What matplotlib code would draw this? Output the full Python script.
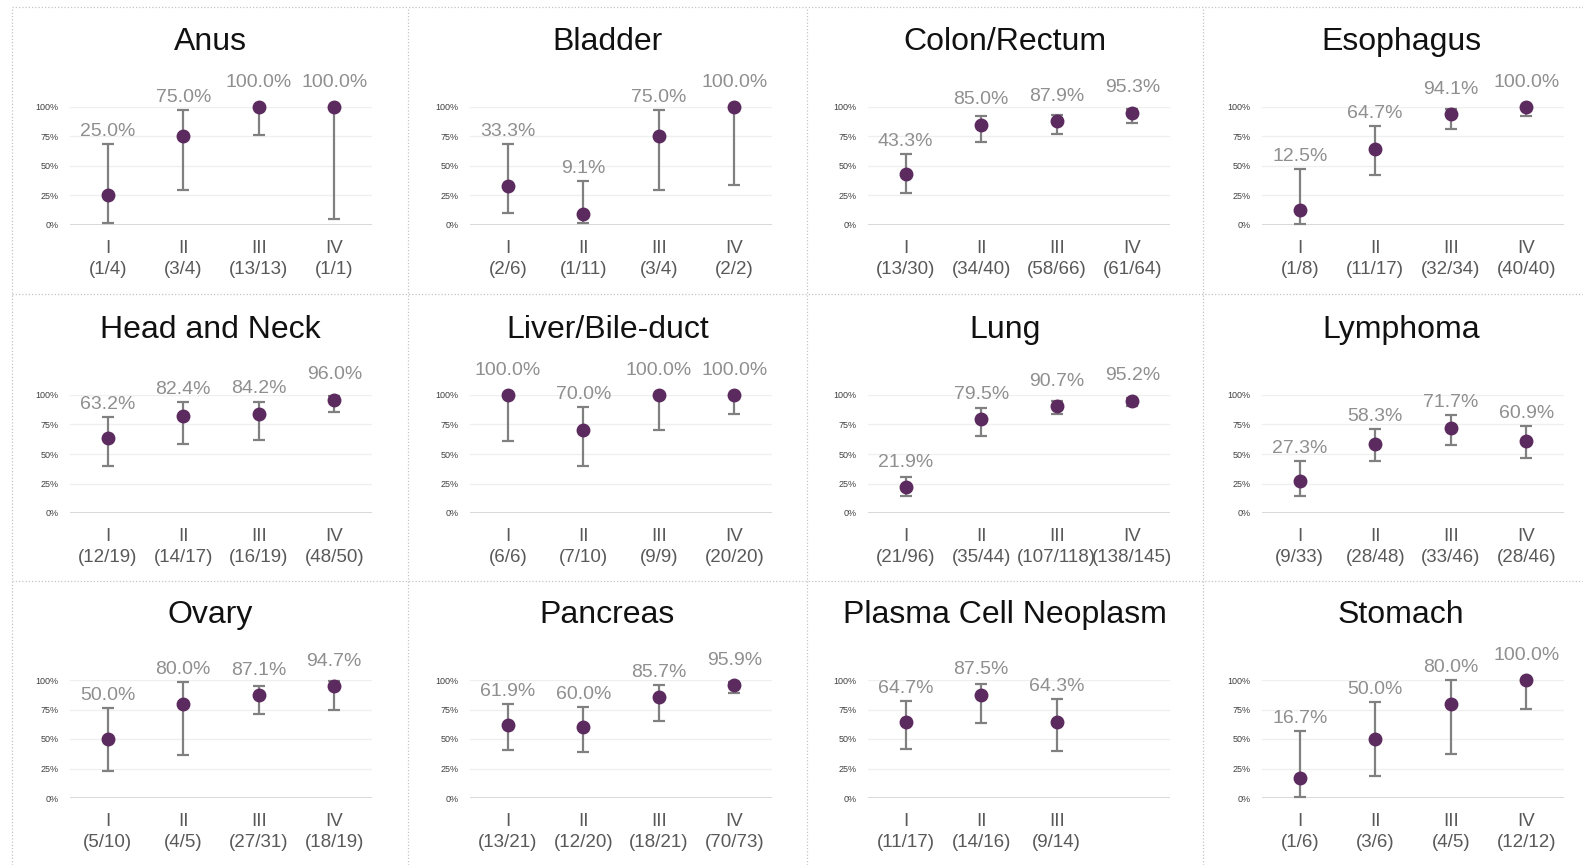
import matplotlib
matplotlib.use("Agg")
import matplotlib.pyplot as plt
from matplotlib.lines import Line2D

# ---- data -------------------------------------------------------------
sites = [
    "Anus", "Bladder", "Colon/Rectum", "Esophagus",
    "Head and Neck", "Liver/Bile-duct", "Lung", "Lymphoma",
    "Ovary", "Pancreas", "Plasma Cell Neoplasm", "Stomach",
]
stages = ["I", "II", "III", "IV"]

responders = [
    [1, 3, 13, 1], [2, 1, 3, 2], [13, 34, 58, 61], [1, 11, 32, 40],
    [12, 14, 16, 48], [6, 7, 9, 20], [21, 35, 107, 138], [9, 28, 33, 28],
    [5, 4, 27, 18], [13, 12, 18, 70], [11, 14, 9], [1, 3, 4, 12],
]
totals = [
    [4, 4, 13, 1], [6, 11, 4, 2], [30, 40, 66, 64], [8, 17, 34, 40],
    [19, 17, 19, 50], [6, 10, 9, 20], [96, 44, 118, 145], [33, 48, 46, 46],
    [10, 5, 31, 19], [21, 20, 21, 73], [17, 16, 14], [6, 6, 5, 12],
]
rate_pct = [
    [25.0, 75.0, 100.0, 100.0], [33.3, 9.1, 75.0, 100.0],
    [43.3, 85.0, 87.9, 95.3], [12.5, 64.7, 94.1, 100.0],
    [63.2, 82.4, 84.2, 96.0], [100.0, 70.0, 100.0, 100.0],
    [21.9, 79.5, 90.7, 95.2], [27.3, 58.3, 71.7, 60.9],
    [50.0, 80.0, 87.1, 94.7], [61.9, 60.0, 85.7, 95.9],
    [64.7, 87.5, 64.3], [16.7, 50.0, 80.0, 100.0],
]
ci_low = [
    [2.0, 29.3, 76.6, 4.8], [9.9, 1.4, 29.3, 33.8],
    [26.8, 70.1, 77.2, 86.5], [1.1, 42.0, 81.1, 92.0],
    [39.9, 58.4, 62.0, 85.6], [60.6, 39.7, 70.4, 83.6],
    [14.0, 65.5, 84.0, 90.3], [14.5, 44.0, 57.7, 46.3],
    [22.9, 36.8, 70.8, 74.8], [40.8, 39.1, 65.4, 88.7],
    [41.4, 63.5, 39.7], [0.9, 18.6, 37.7, 75.7],
]
ci_high = [
    [69.0, 97.7, 100.0, 100.0], [69.0, 37.2, 97.7, 100.0],
    [60.3, 92.5, 93.0, 98.0], [47.7, 84.0, 98.0, 100.0],
    [81.0, 94.1, 94.1, 99.0], [100.0, 89.7, 100.0, 100.0],
    [30.2, 88.6, 94.9, 97.6], [44.0, 71.0, 83.0, 73.6],
    [75.9, 98.6, 94.9, 99.2], [79.6, 77.3, 95.5, 98.6],
    [82.4, 96.9, 83.6], [56.9, 81.7, 99.7, 100.0],
]
y_ticks = [0, 25, 50, 75, 100]
y_tick_labels = ["0%", "25%", "50%", "75%", "100%"]

# ---- layout (pixels) --------------------------------------------------
W, H, DPI = 1583, 865, 100
AX_LEFT = [70, 470, 868, 1262]
AX_WIDTH = 302
AX_TOP = [107, 395, 680]
AX_HEIGHT = 118
BORDER_X = [12, 408, 807, 1203, 1599]
BORDER_Y = [7, 294, 581, 868]

POINT_COLOR = "#5b2a5e"
BAR_COLOR = "#808080"
VALUE_COLOR = "#8f8f8f"
TICK_COLOR = "#595959"
MS = 9

plt.rcParams["font.family"] = ["Liberation Sans", "DejaVu Sans"]

fig = plt.figure(figsize=(W / DPI, H / DPI), dpi=DPI)
fig.patch.set_facecolor("white")


def px_rect(left, top, width, height):
    return [left / W, 1 - (top + height) / H, width / W, height / H]


# dotted panel frame
frame_kw = dict(transform=fig.transFigure, color="#c4c4c4", lw=0.9,
                ls=(0, (1, 1.6)))
for bx in BORDER_X[:-1]:
    fig.add_artist(Line2D([bx / W, bx / W], [0, 1 - BORDER_Y[0] / H], **frame_kw))
for by in BORDER_Y[:-1]:
    fig.add_artist(Line2D([BORDER_X[0] / W, 1], [1 - by / H, 1 - by / H], **frame_kw))

r_px = MS / 2 * DPI / 72

for i, site in enumerate(sites):
    row, col = divmod(i, 4)
    ax = fig.add_axes(px_rect(AX_LEFT[col], AX_TOP[row], AX_WIDTH, AX_HEIGHT))
    ax.set_xlim(-0.5, 3.5)
    ax.set_ylim(0, 100)
    ax.patch.set_alpha(0)

    vals = rate_pct[i]
    lo = ci_low[i]
    hi = ci_high[i]
    xs = list(range(len(vals)))

    # axes furniture
    ax.set_yticks(y_ticks)
    ax.set_yticklabels(y_tick_labels)
    ax.yaxis.grid(True, color="#efefef", lw=0.9)
    ax.set_axisbelow(True)
    ax.axhline(0, color="#d9d9d9", lw=1.4, zorder=1)
    for s in ax.spines.values():
        s.set_visible(False)
    ax.tick_params(axis="y", length=0, pad=8, labelsize=6.5, labelcolor="#404040")
    ax.set_xticks(xs)
    ax.set_xticklabels([f"{stages[k]}\n({responders[i][k]}/{totals[i][k]})"
                        for k in xs])
    ax.tick_params(axis="x", length=0, pad=11, labelsize=13.5, labelcolor=TICK_COLOR)
    for lbl in ax.get_xticklabels():
        lbl.set_linespacing(1.3)

    # confidence intervals and point estimates
    yerr = [[v - l for v, l in zip(vals, lo)], [h - v for v, h in zip(vals, hi)]]
    eb = ax.errorbar(xs, vals, yerr=yerr, fmt="none", ecolor=BAR_COLOR,
                     elinewidth=1.6, capsize=4.5, capthick=1.6, zorder=3)
    for art in list(eb.lines[1]) + list(eb.lines[2]):
        art.set_clip_on(False)
    ax.plot(xs, vals, "o", color=POINT_COLOR, ms=MS, clip_on=False, zorder=4)

    # value labels above the interval / marker
    for x, v, h in zip(xs, vals, hi):
        y_v = ax.transData.transform((x, v))[1]
        y_h = ax.transData.transform((x, h))[1]
        top = max(y_h, y_v + r_px + 6)
        off_px = top - y_h + 8
        ax.annotate(f"{v:.1f}%", xy=(x, h), xytext=(0, off_px * 72 / DPI),
                    textcoords="offset points", ha="center", va="baseline",
                    fontsize=14, color=VALUE_COLOR, annotation_clip=False)

    # panel title
    cx = (BORDER_X[col] + BORDER_X[col + 1]) / 2
    fig.text(cx / W, 1 - (AX_TOP[row] - 57) / H, site, ha="center",
             va="baseline", fontsize=23, color="#111111")

fig.savefig("out.png", dpi=DPI, facecolor="white")
